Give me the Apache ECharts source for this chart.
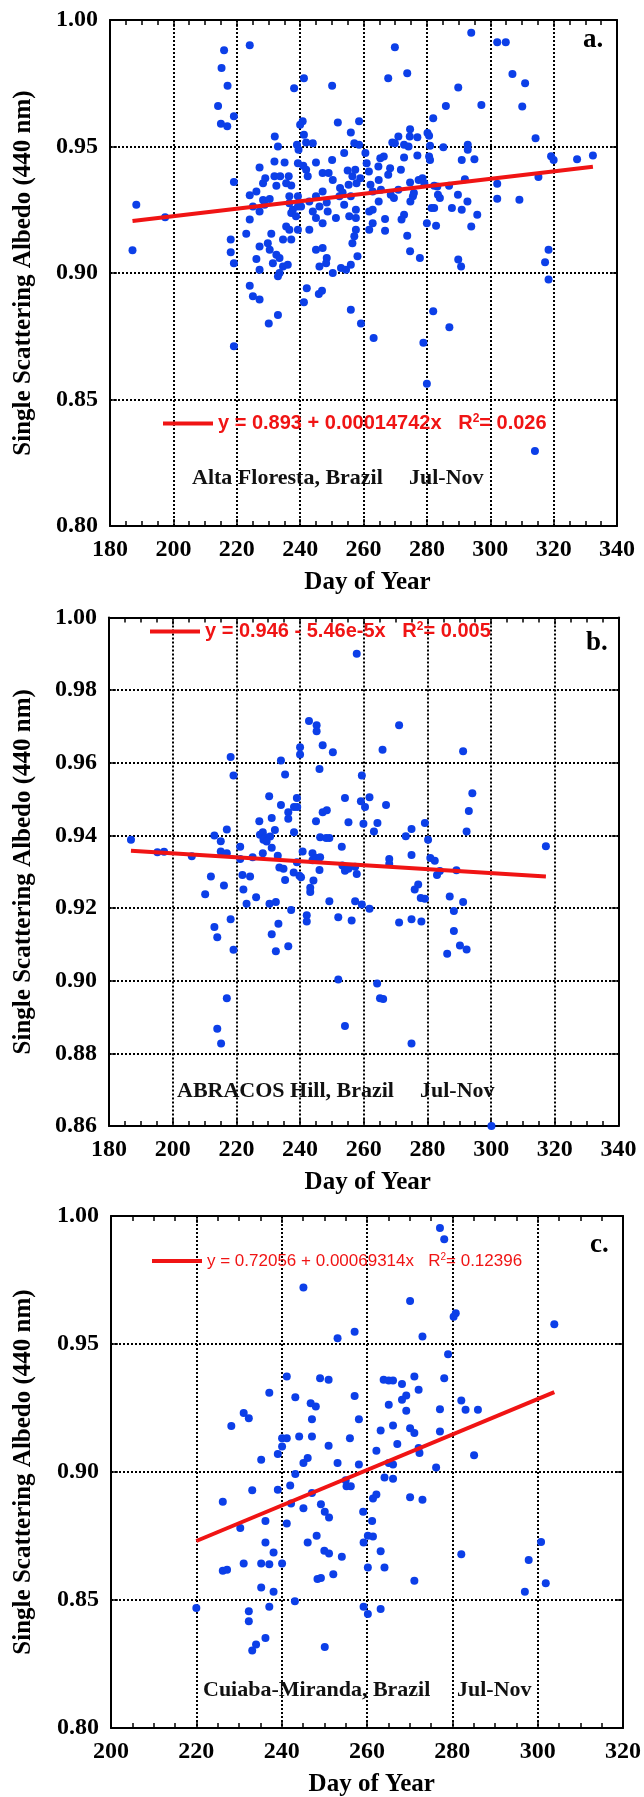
<!DOCTYPE html>
<html>
<head>
<meta charset="utf-8">
<style>
  html, body { margin: 0; padding: 0; background: #ffffff; }
  #chart { width: 644px; height: 1797px; }
</style>
<script src="https://cdn.jsdelivr.net/npm/echarts/dist/echarts.min.js"></script>
</head>
<body>
<div id="chart"></div>
<script>
// ---- Alta Floresta, Brazil (Jul-Nov): day of year / single scattering albedo at 440 nm
const altaDay = [188.3,197.4,187.1,216.0,224.1,215.2,217.1,214.1,219.1,215.0,217.0,219.1,
  241.2,238.1,250.1,232.0,233.0,240.8,240.0,241.2,239.0,241.9,244.0,239.5,251.9,258.6,256.0,257.1,258.6,253.9,
  227.2,231.9,235.1,239.3,241.0,245.0,250.1,228.3,229.0,231.9,233.7,236.4,235.6,237.2,232.5,241.9,242.4,247.1,
  249.0,250.3,252.6,255.0,257.4,256.5,257.8,255.3,253.4,224.1,226.2,225.1,227.2,228.8,228.3,230.4,236.6,237.7,
  239.3,237.2,238.7,240.3,236.6,239.3,242.9,245.0,247.1,248.4,246.1,244.0,245.0,247.1,248.7,251.3,252.4,253.9,
  256.0,255.5,257.6,257.6,224.1,223.0,235.6,236.6,239.3,242.9,234.6,237.2,230.9,229.8,227.2,230.4,232.5,233.5,
  231.4,234.6,236.1,233.5,233.0,218.1,218.1,219.1,226.2,227.2,245.0,247.1,248.4,248.2,246.1,250.3,252.9,254.5,
  256.0,258.1,256.5,257.1,257.6,219.1,224.1,225.1,227.2,230.1,233.0,241.2,242.1,245.9,246.9,256.0,259.2,263.2,
  282.0,287.1,278.9,280.0,314.1,
  294.0,269.9,302.2,304.9,267.8,273.8,307.0,311.0,289.9,286.0,297.2,310.1,282.0,274.7,271.0,274.6,277.0,280.2,
  280.7,269.1,269.9,272.8,274.2,281.0,285.2,292.9,292.9,314.3,260.6,266.4,265.3,272.8,277.0,280.7,281.0,291.0,
  295.0,319.2,320.0,327.4,332.4,261.0,264.7,268.4,267.8,271.8,261.7,259.0,262.2,264.8,274.7,277.4,278.6,279.2,
  282.3,283.3,287.0,292.0,315.2,302.2,302.2,309.2,262.9,265.5,268.6,269.6,271.0,264.8,274.8,275.6,275.9,283.5,
  284.1,289.8,292.8,281.5,282.3,287.9,291.0,295.9,262.9,261.8,272.8,272.0,266.8,262.9,280.0,282.9,294.0,261.8,
  266.8,273.8,274.7,277.8,289.9,290.8,318.4,317.3,318.4];
const altaSsa = [0.927,0.922,0.909,0.988,0.990,0.981,0.974,0.966,0.962,0.959,0.958,0.936,
  0.977,0.973,0.974,0.954,0.950,0.960,0.9586,0.9546,0.9507,0.9516,0.9513,0.9487,0.9595,0.960,0.9555,0.9513,0.9507,0.9474,
  0.9417,0.9441,0.9437,0.9434,0.9424,0.9437,0.9447,0.9355,0.9375,0.9382,0.9382,0.9382,0.9355,0.9346,0.9345,0.9408,0.9382,0.9395,
  0.9395,0.9368,0.9336,0.9405,0.9408,0.9382,0.9355,0.9349,0.9318,0.9307,0.9322,0.9263,0.9243,0.927,0.9289,0.9292,0.9276,0.925,
  0.9263,0.9237,0.9224,0.9263,0.9303,0.9303,0.9283,0.9303,0.9322,0.9279,0.9263,0.9243,0.9217,0.9197,0.9243,0.9217,0.9303,0.927,
  0.9303,0.9224,0.9217,0.925,0.9211,0.9155,0.9184,0.9171,0.9171,0.9171,0.9132,0.9132,0.9155,0.9118,0.9105,0.9092,0.9072,0.9059,
  0.9039,0.9026,0.9033,0.900,0.8987,0.9132,0.9082,0.9039,0.9055,0.9013,0.9092,0.9099,0.9059,0.9039,0.9026,0.900,0.902,0.9013,
  0.9033,0.9066,0.9118,0.9145,0.9171,0.871,0.895,0.8908,0.8895,0.880,0.8834,0.8884,0.894,0.8917,0.893,0.8855,0.880,0.8743,
  0.8849,0.8786,0.8724,0.8562,0.8296,
  0.995,0.9892,0.9912,0.9912,0.977,0.979,0.9787,0.975,0.9733,0.966,0.9664,0.9658,0.9612,0.9568,0.954,0.954,0.9537,0.9553,
  0.9542,0.9516,0.9513,0.9507,0.950,0.9503,0.9497,0.9507,0.9487,0.9533,0.9474,0.946,0.9454,0.9457,0.9464,0.946,0.9447,0.9447,
  0.945,0.9461,0.9447,0.945,0.9464,0.9434,0.9421,0.9414,0.9388,0.9408,0.9401,0.9375,0.9349,0.9368,0.9358,0.9368,0.9375,0.9355,
  0.9345,0.9342,0.9345,0.9371,0.9379,0.9353,0.9293,0.929,0.9322,0.9329,0.9309,0.9296,0.9329,0.9283,0.9283,0.9303,0.9316,0.9309,
  0.9296,0.9309,0.9283,0.9257,0.9257,0.9257,0.925,0.923,0.925,0.9243,0.923,0.9211,0.9213,0.9197,0.9197,0.9187,0.9184,0.9171,
  0.9167,0.9147,0.9086,0.9059,0.9053,0.9026,0.9092,0.9042,0.8974];

// ---- ABRACOS Hill, Brazil (Jul-Nov)
const abracosDay = [257.8,242.8,245.2,245.2,247.1,250.3,240.0,240.0,218.2,219.1,234.0,235.3,246.1,230.3,234.0,236.3,
  236.3,238.1,239.0,239.1,231.1,227.2,232.1,228.3,227.4,229.0,228.5,230.6,229.5,238.1,245.0,247.1,248.4,246.3,249.2,
  248.2,259.4,259.1,260.4,254.1,255.2,259.9,261.8,213.1,215.1,217.0,215.1,217.0,186.9,195.2,197.3,206.0,221.2,221.2,
  225.1,228.3,231.1,233.0,233.5,234.8,238.0,239.0,239.8,235.3,240.8,243.9,243.9,245.2,246.3,246.1,244.2,253.1,253.3,
  254.1,255.2,257.3,257.8,212.0,216.1,221.9,224.3,240.3,
  271.1,265.9,291.2,294.1,293.0,292.3,267.0,264.3,263.2,273.2,275.0,279.2,280.2,275.0,280.9,282.3,268.0,268.0,317.2,
  289.1,283.9,283.0,
  210.2,222.2,226.2,223.2,230.4,232.4,237.2,243.2,243.2,249.2,257.3,259.4,261.8,213.1,214.0,218.2,219.1,231.1,233.2,
  232.4,236.3,242.1,242.1,252.0,256.2,252.0,217.0,214.0,215.2,254.1,
  277.1,276.0,277.9,279.2,287.0,291.2,288.3,271.1,275.0,278.1,288.3,290.2,292.3,286.2,264.2,265.1,266.1,275.0,300.1];
const abracosSsa = [0.990,0.9715,0.9703,0.9687,0.9648,0.9629,0.9643,0.9623,0.9616,0.9565,0.9606,0.9568,0.9583,0.9508,0.9484,0.9464,
  0.9446,0.9478,0.9503,0.9478,0.9448,0.9439,0.9415,0.9409,0.9402,0.9395,0.9388,0.9397,0.9383,0.9409,0.9439,0.9464,0.9469,0.9395,0.9393,
  0.9393,0.9565,0.9494,0.9478,0.9503,0.9436,0.9432,0.9505,0.940,0.9384,0.9416,0.9356,0.9351,0.9388,0.9354,0.9355,0.9343,0.9369,0.9335,
  0.934,0.9351,0.9366,0.9344,0.9312,0.9308,0.9298,0.9326,0.9289,0.9277,0.9356,0.9351,0.9332,0.9338,0.934,0.9305,0.9276,0.9369,0.9317,
  0.9303,0.9308,0.9314,0.9294,0.9287,0.9262,0.9291,0.9287,0.9285,
  0.9703,0.9636,0.9632,0.9516,0.9467,0.9411,0.9484,0.9434,0.9411,0.9398,0.9418,0.9434,0.9388,0.9346,0.9338,0.933,0.9335,0.9321,0.937,
  0.9304,0.9302,0.9291,
  0.9238,0.9251,0.923,0.9212,0.9212,0.9217,0.9195,0.9244,0.9256,0.9219,0.9219,0.921,0.9198,0.9148,0.912,0.9169,0.9085,0.9128,0.9157,
  0.9081,0.9095,0.918,0.9163,0.9175,0.9166,0.9003,0.8952,0.8868,0.8827,0.8875,
  0.9265,0.9251,0.9228,0.9226,0.9232,0.9217,0.9192,0.916,0.9169,0.9163,0.9137,0.9097,0.9086,0.9074,0.8992,0.8952,0.895,0.8827,0.860];

// ---- Cuiaba-Miranda, Brazil (Jul-Nov)
const cuiabaDay = [245.1,253.1,257.1,241.2,249.0,251.0,237.1,243.2,246.8,248.0,257.1,231.1,232.3,228.2,247.1,258.1,
  240.1,241.2,244.1,247.1,256.0,240.1,239.1,251.0,235.2,246.1,245.1,253.1,258.1,243.2,242.0,239.1,233.1,247.1,255.0,
  255.2,256.2,226.2,242.2,249.2,
  277.1,278.1,270.1,280.8,280.3,303.9,273.0,279.0,263.9,265.1,266.1,268.2,271.1,272.1,278.1,269.2,268.2,265.1,269.2,
  277.1,282.1,283.1,286.0,263.2,266.1,270.1,271.1,277.1,262.2,267.1,272.1,272.3,285.1,265.1,266.1,276.2,264.1,266.1,
  261.4,262.2,270.1,273.0,
  236.2,241.2,230.3,245.1,250.1,251.1,248.2,236.2,246.1,238.1,250.0,251.1,254.1,226.2,227.2,231.1,235.2,237.1,240.1,
  252.1,248.4,249.2,235.2,238.1,243.1,237.1,220.0,232.3,232.3,236.2,234.0,233.1,250.1,
  259.1,261.2,260.2,261.4,259.2,263.2,260.2,264.1,271.1,282.1,300.8,297.9,301.9,297.0,259.2,260.2,263.2];
const cuiabaSsa = [0.9721,0.9522,0.9548,0.9373,0.9366,0.936,0.931,0.9292,0.9269,0.9256,0.9297,0.923,0.921,0.918,0.9206,0.9206,
  0.9132,0.9132,0.9139,0.9139,0.9132,0.910,0.907,0.9103,0.9048,0.9055,0.9035,0.9035,0.9029,0.8992,0.8947,0.8931,0.8929,0.8918,0.8968,
  0.8944,0.8944,0.8884,0.8877,0.8874,
  0.9953,0.9909,0.9668,0.962,0.9606,0.9577,0.9529,0.946,0.936,0.9357,0.9357,0.9344,0.9373,0.9321,0.9366,0.9299,0.9282,0.9263,0.9239,
  0.9245,0.9279,0.9243,0.9243,0.9162,0.9182,0.9171,0.9152,0.9158,0.9083,0.9109,0.9094,0.9074,0.9065,0.9035,0.9029,0.9018,0.8979,0.8974,
  0.8896,0.8912,0.8901,0.8892,
  0.8809,0.8799,0.8781,0.8858,0.8845,0.8822,0.8751,0.8725,0.8725,0.8686,0.8692,0.8682,0.8669,0.8614,0.8618,0.8643,0.8643,0.864,0.8643,
  0.8601,0.8582,0.8586,0.8549,0.8532,0.8495,0.8474,0.8469,0.8456,0.8417,0.8352,0.8326,0.8303,0.8316,
  0.8845,0.8809,0.8751,0.8748,0.8725,0.869,0.8627,0.8627,0.8575,0.8679,0.8727,0.8656,0.8565,0.8532,0.8474,0.8445,0.8465];

// Linear fits as printed on each panel: [intercept, slope]
const altaFit = [0.893, 0.00014742];
const abracosFit = [0.946, -5.46e-5];
const cuiabaFit = [0.72056, 0.00069314];

// Axis ranges and tick spacing
const dayTicksWide = { min: 180, max: 340, interval: 20 };
const dayTicksNarrow = { min: 200, max: 320, interval: 20 };
const ssaTicksA = { min: 0.80, max: 1.00, interval: 0.05 };
const ssaTicksB = { min: 0.86, max: 1.00, interval: 0.02 };
const ssaTicksC = { min: 0.80, max: 1.00, interval: 0.05 };

// Texts
const fitLabels = [
  'y = 0.893 + 0.00014742x   R{sup|2}= 0.026',
  'y = 0.946 - 5.46e-5x   R{sup|2}= 0.005',
  'y = 0.72056 + 0.00069314x   R{sup|2}= 0.12396'
];
const siteNames = ['Alta Floresta, Brazil', 'ABRACOS Hill, Brazil', 'Cuiaba-Miranda, Brazil'];
const seasonName = 'Jul-Nov';
const panelTags = ['a.', 'b.', 'c.'];
const xTitle = 'Day of Year';
const yTitle = 'Single Scattering Albedo (440 nm)';

const BLUE = '#0c3fe8';
const RED = '#f01414';
const SERIF = '"Liberation Serif", "Times New Roman", serif';
const SANS = '"Liberation Sans", Arial, sans-serif';

const panels = [
  { days: altaDay, ssa: altaSsa, fit: altaFit, xr: dayTicksWide, yr: ssaTicksA,
    grid: { left: 110, top: 20, width: 507, height: 506 },
    legend: { left: 163, top: 413, size: 20, weight: 'bold' },
    site: { x: 192, y: 478 }, season: { x: 409, y: 478 }, tag: { x: 583, y: 40 } },
  { days: abracosDay, ssa: abracosSsa, fit: abracosFit, xr: dayTicksWide, yr: ssaTicksB,
    grid: { left: 109, top: 617.5, width: 509.5, height: 508.5 },
    legend: { left: 150, top: 621, size: 20, weight: 'bold' },
    site: { x: 177, y: 1091 }, season: { x: 420, y: 1091 }, tag: { x: 586, y: 643 } },
  { days: cuiabaDay, ssa: cuiabaSsa, fit: cuiabaFit, xr: dayTicksNarrow, yr: ssaTicksC,
    grid: { left: 111, top: 1216, width: 513.5, height: 512 },
    legend: { left: 152, top: 1252, size: 17, weight: 'normal' },
    site: { x: 203, y: 1690 }, season: { x: 457, y: 1690 }, tag: { x: 590, y: 1245 } }
];

const grid = [], xAxis = [], yAxis = [], series = [], legend = [], graphic = [];

panels.forEach(function (p, i) {
  grid.push(Object.assign({ containLabel: false }, p.grid));

  const frame = { show: true, onZero: false, lineStyle: { color: '#000', width: 2 } };
  const tick = { show: true, inside: true, length: 7, lineStyle: { color: '#000', width: 1.5 } };
  const dotted = { show: true, lineStyle: { color: '#000', width: 2, type: [2, 2] } };
  const labelFont = { color: '#000', fontFamily: SERIF, fontWeight: 'bold', fontSize: 24 };

  xAxis.push({
    gridIndex: i, type: 'value', position: 'bottom',
    min: p.xr.min, max: p.xr.max, interval: p.xr.interval,
    axisLine: frame, axisTick: tick,
    minorTick: { show: true, splitNumber: 4, length: 5, lineStyle: { color: '#000', width: 1.5 } },
    axisLabel: Object.assign({ margin: 12 }, labelFont),
    splitLine: dotted
  });
  xAxis.push({
    gridIndex: i, type: 'value', position: 'top',
    min: p.xr.min, max: p.xr.max, interval: p.xr.interval,
    axisLine: frame, axisTick: tick,
    minorTick: { show: true, splitNumber: 4, length: 5, lineStyle: { color: '#000', width: 1.5 } },
    axisLabel: { show: false }, splitLine: { show: false }
  });
  yAxis.push({
    gridIndex: i, type: 'value', position: 'left',
    min: p.yr.min, max: p.yr.max, interval: p.yr.interval,
    axisLine: frame, axisTick: tick,
    axisLabel: Object.assign({ margin: 12, formatter: function (v) { return v.toFixed(2); } }, labelFont),
    splitLine: dotted
  });
  yAxis.push({
    gridIndex: i, type: 'value', position: 'right',
    min: p.yr.min, max: p.yr.max, interval: p.yr.interval,
    axisLine: frame, axisTick: tick,
    axisLabel: { show: false }, splitLine: { show: false }
  });

  const pts = p.days.map(function (d, k) { return [d, p.ssa[k]]; });
  series.push({
    type: 'scatter', name: siteNames[i], xAxisIndex: 2 * i, yAxisIndex: 2 * i,
    data: pts, symbol: 'circle', symbolSize: 8,
    itemStyle: { color: BLUE, opacity: 1 }, z: 3, silent: true
  });

  const x0 = Math.min.apply(null, p.days), x1 = Math.max.apply(null, p.days);
  const fitName = 'fit ' + siteNames[i];
  series.push({
    type: 'line', name: fitName, xAxisIndex: 2 * i, yAxisIndex: 2 * i,
    data: [[x0, p.fit[0] + p.fit[1] * x0], [x1, p.fit[0] + p.fit[1] * x1]],
    showSymbol: false, symbol: 'none',
    lineStyle: { color: RED, width: 4 }, itemStyle: { color: RED }, z: 4, silent: true
  });

  legend.push({
    data: [fitName], left: p.legend.left, top: p.legend.top, padding: 0,
    icon: 'rect', itemWidth: 50, itemHeight: 4, selectedMode: false,
    formatter: function () { return fitLabels[i]; },
    textStyle: {
      color: RED, fontFamily: SANS, fontSize: p.legend.size, fontWeight: p.legend.weight,
      rich: { sup: { color: RED, fontFamily: SANS, fontWeight: p.legend.weight,
        fontSize: Math.round(p.legend.size * 0.6), padding: [0, 0, Math.round(p.legend.size * 0.45), 0] } }
    }
  });

  const g = p.grid;
  graphic.push({
    type: 'text', x: 24, y: g.top + g.height / 2, rotation: Math.PI / 2, silent: true,
    style: { text: yTitle, font: 'bold 25px ' + SERIF, fill: '#000', align: 'center', verticalAlign: 'middle' }
  });
  graphic.push({
    type: 'text', x: g.left + g.width / 2 + 4, y: g.top + g.height + 57, silent: true,
    style: { text: xTitle, font: 'bold 25px ' + SERIF, fill: '#000', align: 'center', verticalAlign: 'middle' }
  });
  graphic.push({
    type: 'text', x: p.site.x, y: p.site.y, silent: true,
    style: { text: siteNames[i], font: 'bold 22px ' + SERIF, fill: '#111', align: 'left', verticalAlign: 'middle' }
  });
  graphic.push({
    type: 'text', x: p.season.x, y: p.season.y, silent: true,
    style: { text: seasonName, font: 'bold 22px ' + SERIF, fill: '#111', align: 'left', verticalAlign: 'middle' }
  });
  graphic.push({
    type: 'text', x: p.tag.x, y: p.tag.y, silent: true,
    style: { text: panelTags[i], font: 'bold 27px ' + SERIF, fill: '#000', align: 'left', verticalAlign: 'middle' }
  });
});

const chart = echarts.init(document.getElementById('chart'), null, { renderer: 'canvas', width: 644, height: 1797 });
chart.setOption({
  backgroundColor: '#ffffff',
  animation: false,
  grid: grid, xAxis: xAxis, yAxis: yAxis,
  legend: legend, series: series, graphic: graphic
});
</script>
</body>
</html>
